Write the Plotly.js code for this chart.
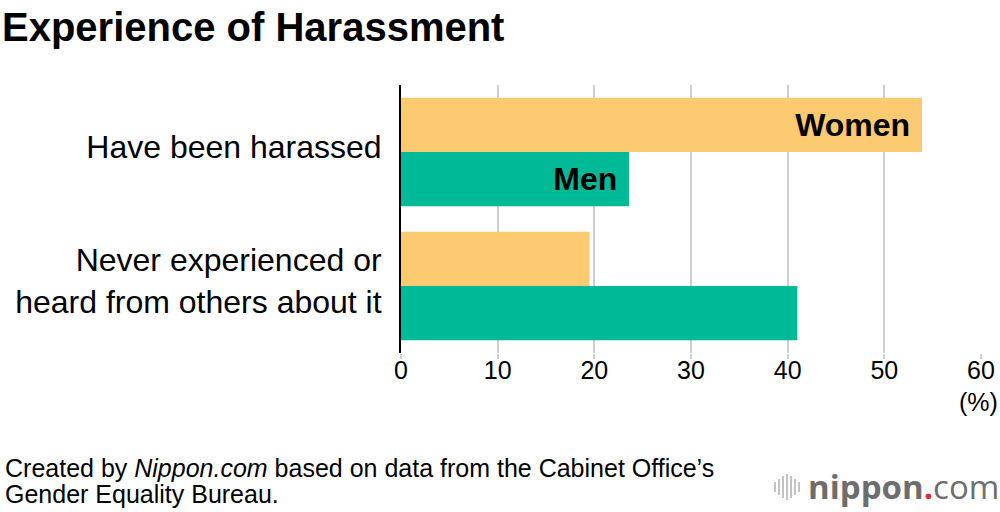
<!DOCTYPE html>
<html>
<head>
<meta charset="utf-8">
<script src="https://cdn.plot.ly/plotly-3.0.1.min.js"></script>
<style>html,body{margin:0;padding:0;background:#fff;}#chart{width:1000px;height:512px;}</style>
</head>
<body>
<div id="chart"></div>
<script>
const categories = ["Have been harassed", "Never experienced or<br>heard from others about it"];
const women = [53.9, 19.5];
const men = [23.6, 41.0];
const womenText = ["Women\u00A0", ""];
const menText = ["Men\u00A0", ""];
const xTicks = [0, 10, 20, 30, 40, 50, 60];

const FONT = "Liberation Sans, Arial, Helvetica, sans-serif";

const traces = [
  {
    type: "bar", orientation: "h", name: "Women",
    y: categories, x: women, text: womenText,
    marker: {color: "#FCCA70"},
    textposition: "inside", insidetextanchor: "end",
    textfont: {family: FONT, size: 32, color: "#000", weight: "bold"},
    hoverinfo: "skip"
  },
  {
    type: "bar", orientation: "h", name: "Men",
    y: categories, x: men, text: menText,
    marker: {color: "#00B996"},
    textposition: "inside", insidetextanchor: "end",
    textfont: {family: FONT, size: 32, color: "#000", weight: "bold"},
    hoverinfo: "skip"
  }
];

// pixel -> paper helpers (plot area: x 401..981, y 85..353)
const px = p => (p - 401) / 580;
const py = p => (353 - p) / 268;

const shapes = [];
const iconX = [774, 778, 782, 786, 790, 794, 798];
const iconH = [10, 16, 22, 26, 22, 16, 10];
for (let i = 0; i < iconX.length; i++) {
  shapes.push({type: "rect", xref: "paper", yref: "paper",
    x0: px(iconX[i]), x1: px(iconX[i] + 2),
    y0: py(487 + iconH[i] / 2), y1: py(487 - iconH[i] / 2),
    fillcolor: "#c4c4c4", line: {width: 0}});
}

const layout = {
  width: 1000, height: 512,
  margin: {l: 401, r: 19, t: 85, b: 159},
  paper_bgcolor: "#fff", plot_bgcolor: "#fff",
  barmode: "group", bargap: 0.19, bargroupgap: 0,
  showlegend: false,
  font: {family: FONT, color: "#000"},
  title: {text: "<b>Experience of Harassment</b>", x: 0.002, xanchor: "left", xref: "container",
          y: 0.947, yanchor: "middle", yref: "container",
          font: {family: FONT, size: 40, color: "#000"}},
  xaxis: {
    range: [0, 60], tickvals: xTicks, ticktext: xTicks.map(String),
    showgrid: true, gridcolor: "#cfcfcf", gridwidth: 2,
    zeroline: false, showline: false,
    ticks: "outside", ticklen: 5, tickcolor: "#cfcfcf", tickwidth: 2,
    ticklabelstandoff: -10,
    tickfont: {family: FONT, size: 25, color: "#000"},
    fixedrange: true
  },
  yaxis: {
    autorange: "reversed",
    showline: true, linecolor: "#000", linewidth: 2,
    showgrid: false, zeroline: false,
    ticks: "", ticklabelstandoff: 11, ticklabelshift: 5,
    tickfont: {family: FONT, size: 32, color: "#000"},
    fixedrange: true
  },
  shapes: shapes,
  annotations: [
    {xref: "x", yref: "paper", x: 59.7, y: py(402), xanchor: "center", yanchor: "middle",
     text: "(%)", showarrow: false, font: {family: FONT, size: 25, color: "#000"}},
    {xref: "paper", yref: "paper", x: px(3), y: py(468), xanchor: "left", yanchor: "middle",
     text: "Created by <i>Nippon.com</i> based on data from the Cabinet Office’s",
     showarrow: false, font: {family: FONT, size: 25, color: "#000"}},
    {xref: "paper", yref: "paper", x: px(3), y: py(494), xanchor: "left", yanchor: "middle",
     text: "Gender Equality Bureau.",
     showarrow: false, font: {family: FONT, size: 25, color: "#000"}},
    {xref: "paper", yref: "paper", x: px(806), y: py(486), xanchor: "left", yanchor: "middle",
     text: "<b>nippon</b><span style='color:#e8262b'><b>.</b></span>com",
     showarrow: false, font: {family: "Open Sans, DejaVu Sans, sans-serif", size: 33, color: "#6d6d6d"}}
  ]
};

Plotly.newPlot("chart", traces, layout, {displayModeBar: false, staticPlot: true});
</script>
</body>
</html>
